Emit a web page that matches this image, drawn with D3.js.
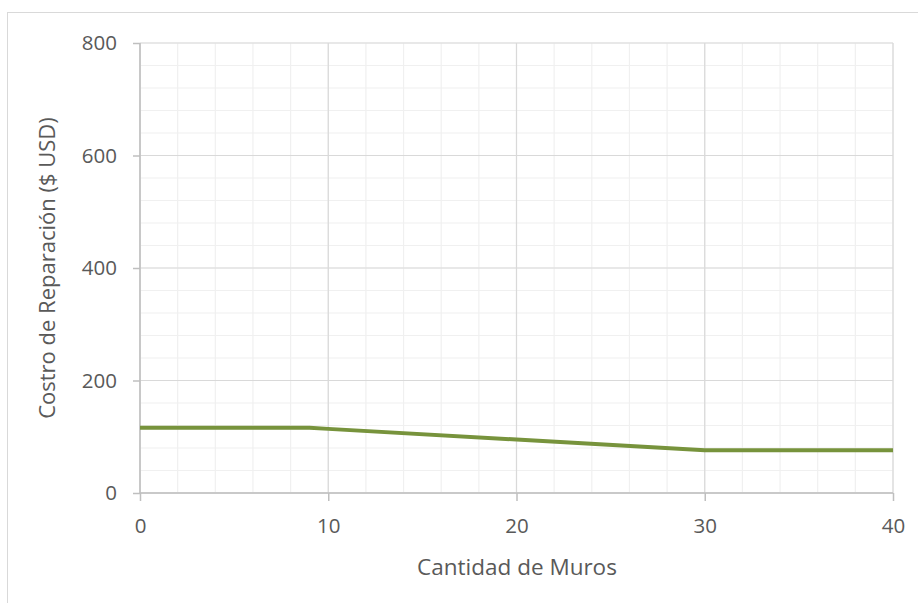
<!DOCTYPE html>
<html>
<head>
<meta charset="utf-8">
<script src="https://cdn.jsdelivr.net/npm/d3@7"></script>
<style>
  html, body { margin: 0; padding: 0; background: #fff; }
  svg { display: block; font-family: "Open Sans", "Noto Sans", sans-serif; }
</style>
</head>
<body>
<svg id="chart" width="918" height="603"></svg>
<script>
// Repair cost as a function of the number of walls
const muros = [0, 9, 10, 20, 30, 40];
const costo = [116, 116, 114, 95, 76, 76];

const xTicks = [0, 10, 20, 30, 40];
const yTicks = [0, 200, 400, 600, 800];
const xMinor = d3.range(0, 41, 2);
const yMinor = d3.range(0, 801, 40);

const xTitle = "Cantidad de Muros";
const yTitle = "Costro de Reparación ($ USD)";

const svg = d3.select("#chart");
const margin = { left: 140, right: 25, top: 43, bottom: 110 };
const W = 918, H = 603;

const x = d3.scaleLinear().domain([0, 40]).range([margin.left, W - margin.right]);
const y = d3.scaleLinear().domain([0, 800]).range([H - margin.bottom, margin.top]);

// chart frame
svg.append("rect")
  .attr("x", 7.5).attr("y", 12.5)
  .attr("width", 930).attr("height", 600)
  .attr("fill", "#fff").attr("stroke", "#d9d9d9").attr("stroke-width", 1);

const grid = svg.append("g");
// minor gridlines
grid.selectAll("line.mx").data(xMinor).join("line")
  .attr("x1", d => x(d)).attr("x2", d => x(d))
  .attr("y1", y(0)).attr("y2", y(800))
  .attr("stroke", "#f0f0f0").attr("stroke-width", 1.2);
grid.selectAll("line.my").data(yMinor).join("line")
  .attr("x1", x(0)).attr("x2", x(40))
  .attr("y1", d => y(d)).attr("y2", d => y(d))
  .attr("stroke", "#f0f0f0").attr("stroke-width", 1.2);
// major gridlines
grid.selectAll("line.Mx").data(xTicks).join("line")
  .attr("x1", d => x(d)).attr("x2", d => x(d))
  .attr("y1", y(0)).attr("y2", y(800))
  .attr("stroke", "#d9d9d9").attr("stroke-width", 1.2);
grid.selectAll("line.My").data(yTicks).join("line")
  .attr("x1", x(0)).attr("x2", x(40))
  .attr("y1", d => y(d)).attr("y2", d => y(d))
  .attr("stroke", "#d9d9d9").attr("stroke-width", 1.2);

// axes
const xAxis = svg.append("g")
  .attr("transform", `translate(0,${y(0)})`)
  .call(d3.axisBottom(x).tickValues(xTicks).tickSize(8).tickPadding(17).tickFormat(d3.format("d")));
const yAxis = svg.append("g")
  .attr("transform", `translate(${x(0)},0)`)
  .call(d3.axisLeft(y).tickValues(yTicks).tickSize(7).tickPadding(16).tickFormat(d3.format("d")));

[xAxis, yAxis].forEach(a => {
  a.select(".domain").attr("stroke", "#bfbfbf").attr("stroke-width", 1.5);
  a.selectAll(".tick line").attr("stroke", "#bfbfbf").attr("stroke-width", 1.5);
  a.selectAll(".tick text")
    .attr("fill", "#595959")
    .style("font-size", "20.5px")
    .style("font-family", "'Open Sans', sans-serif");
});
yAxis.select(".domain").attr("d", `M0,${y(0)}V${y(800)}`);
xAxis.select(".domain").attr("d", `M${x(0)},0H${x(40)}`);

// series line
const pts = muros.map((m, i) => [m, costo[i]]);
svg.append("path")
  .datum(pts)
  .attr("fill", "none")
  .attr("stroke", "#77933c")
  .attr("stroke-width", 4)
  .attr("stroke-linejoin", "round")
  .attr("d", d3.line().x(d => x(d[0])).y(d => y(d[1])));

// axis titles
svg.append("text")
  .attr("x", 517).attr("y", 567)
  .attr("dy", "0.35em")
  .attr("text-anchor", "middle")
  .attr("fill", "#595959")
  .style("font-size", "22.5px")
  .text(xTitle);
svg.append("text")
  .attr("transform", `translate(47,${(y(0) + y(800)) / 2}) rotate(-90)`)
  .attr("dy", "0.35em")
  .attr("text-anchor", "middle")
  .attr("fill", "#595959")
  .style("font-size", "22px")
  .text(yTitle);
</script>
</body>
</html>
